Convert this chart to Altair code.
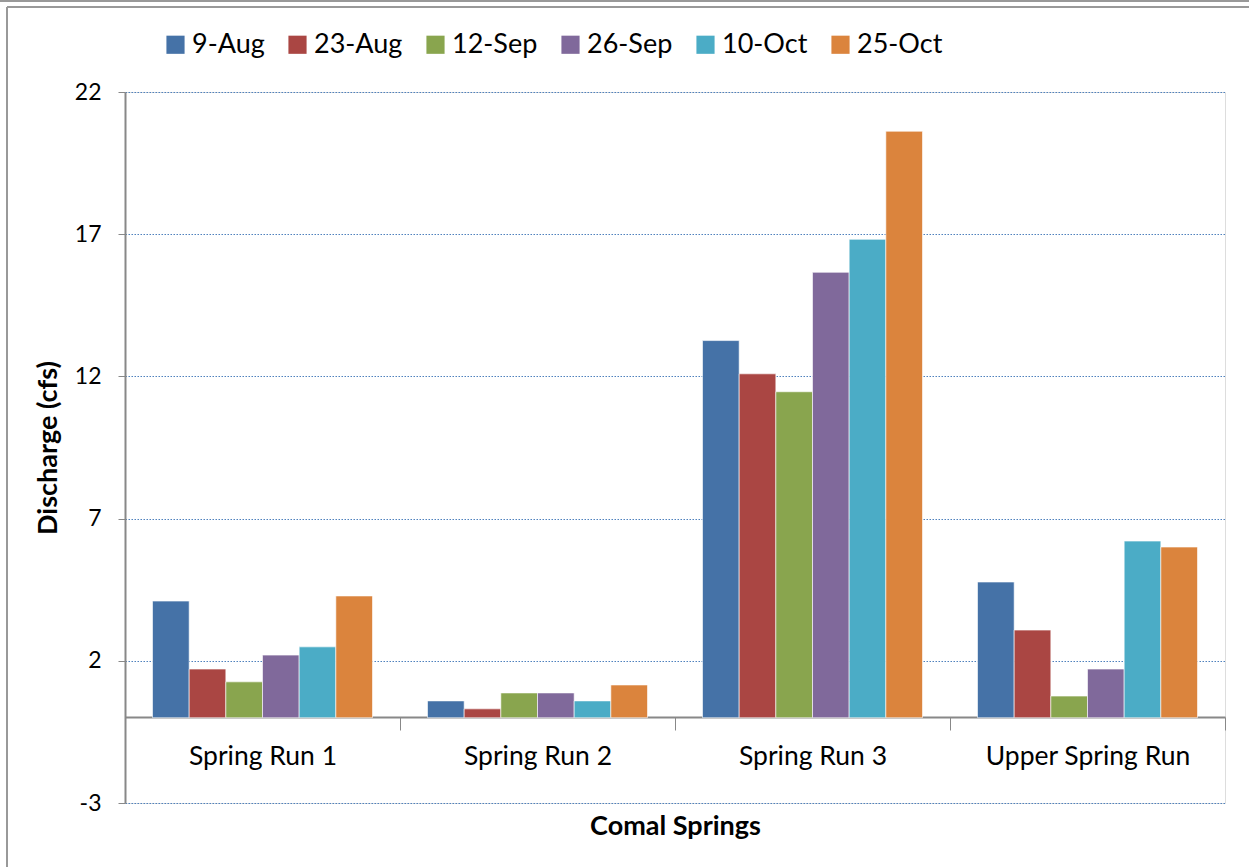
import altair as alt
import pandas as pd

sites = ["Spring Run 1", "Spring Run 2", "Spring Run 3", "Upper Spring Run"]
dates = ["9-Aug", "23-Aug", "12-Sep", "26-Sep", "10-Oct", "25-Oct"]
colors = ["#4572A7", "#AA4643", "#89A54E", "#80699B", "#4BACC6", "#DB843D"]

v_aug9 = [4.10, 0.59, 13.26, 4.77]
v_aug23 = [1.71, 0.31, 12.09, 3.08]
v_sep12 = [1.26, 0.87, 11.46, 0.76]
v_sep26 = [2.20, 0.87, 15.66, 1.71]
v_oct10 = [2.49, 0.59, 16.82, 6.21]
v_oct25 = [4.28, 1.15, 20.62, 6.00]

series = [v_aug9, v_aug23, v_sep12, v_sep26, v_oct10, v_oct25]
rows = []
for d, vals in zip(dates, series):
    for s, v in zip(sites, vals):
        rows.append({"site": s, "date": d, "value": v})
df = pd.DataFrame(rows)

FONT = "Lato"
W, H = 1100, 711

bars = alt.Chart(df).mark_bar(stroke="white", strokeWidth=1, strokeOpacity=0.6).encode(
    x=alt.X("site:N", sort=sites,
            scale=alt.Scale(paddingInner=0, paddingOuter=0),
            axis=alt.Axis(title="Comal Springs", labelAngle=0, tickBand="extent",
                          offset=-86, domainColor="#888888", tickColor="#888888",
                          tickSize=13, labelFontSize=26.5, labelFont=FONT, labelColor="#000000",
                          labelPadding=13, labelLimit=0, titleFont=FONT, titleFontSize=27,
                          titleFontWeight="bold", titleColor="#000000", titlePadding=44,
                          grid=False, domainWidth=2)),
    xOffset=alt.XOffset("date:N", sort=dates,
                        scale=alt.Scale(paddingInner=0, paddingOuter=0.75)),
    y=alt.Y("value:Q",
            scale=alt.Scale(domain=[-3, 22], nice=False, zero=False),
            axis=alt.Axis(title="Discharge (cfs)", values=[-3, 2, 7, 12, 17, 22],
                          labelExpr="'' + datum.value",
                          grid=True, gridColor="#4F81BD", gridDash=[1.5, 1.5], gridWidth=1.2,
                          domainColor="#888888", tickColor="#888888", tickSize=7,
                          labelFontSize=23, labelFont=FONT, labelColor="#000000",
                          labelPadding=17, titleFont=FONT, titleFontSize=27,
                          titleFontWeight="bold", titleColor="#000000", titlePadding=12,
                          domainWidth=2)),
    color=alt.Color("date:N", sort=dates, scale=alt.Scale(domain=dates, range=colors),
                    legend=alt.Legend(title=None, orient="none", direction="horizontal",
                                      legendX=37, legendY=-61, columns=6,
                                      symbolType="square", symbolSize=330,
                                      symbolStrokeWidth=0, symbolOpacity=1,
                                      labelFont=FONT, labelFontSize=27, labelColor="#000000",
                                      labelOffset=3, columnPadding=19)),
)

frame_top = alt.Chart().mark_rule(color="#999999", strokeWidth=2).encode(
    x=alt.value(-118), x2=alt.value(1124), y=alt.value(-85))
frame_top2 = alt.Chart().mark_rule(color="#999999", strokeWidth=2).encode(
    x=alt.value(-125), x2=alt.value(1124), y=alt.value(-91))
frame_left = alt.Chart().mark_rule(color="#999999", strokeWidth=2).encode(
    x=alt.value(-118), y=alt.value(-85), y2=alt.value(775))

chart = alt.layer(bars, frame_top, frame_top2, frame_left).properties(
    width=W, height=H,
    autosize=alt.AutoSizeParams(type="none"),
    padding={"left": 125, "top": 92, "right": 24, "bottom": 64},
).configure_view(stroke=None).configure(background="white")

chart.save("out.html", embed_options={"renderer": "svg", "actions": False})
